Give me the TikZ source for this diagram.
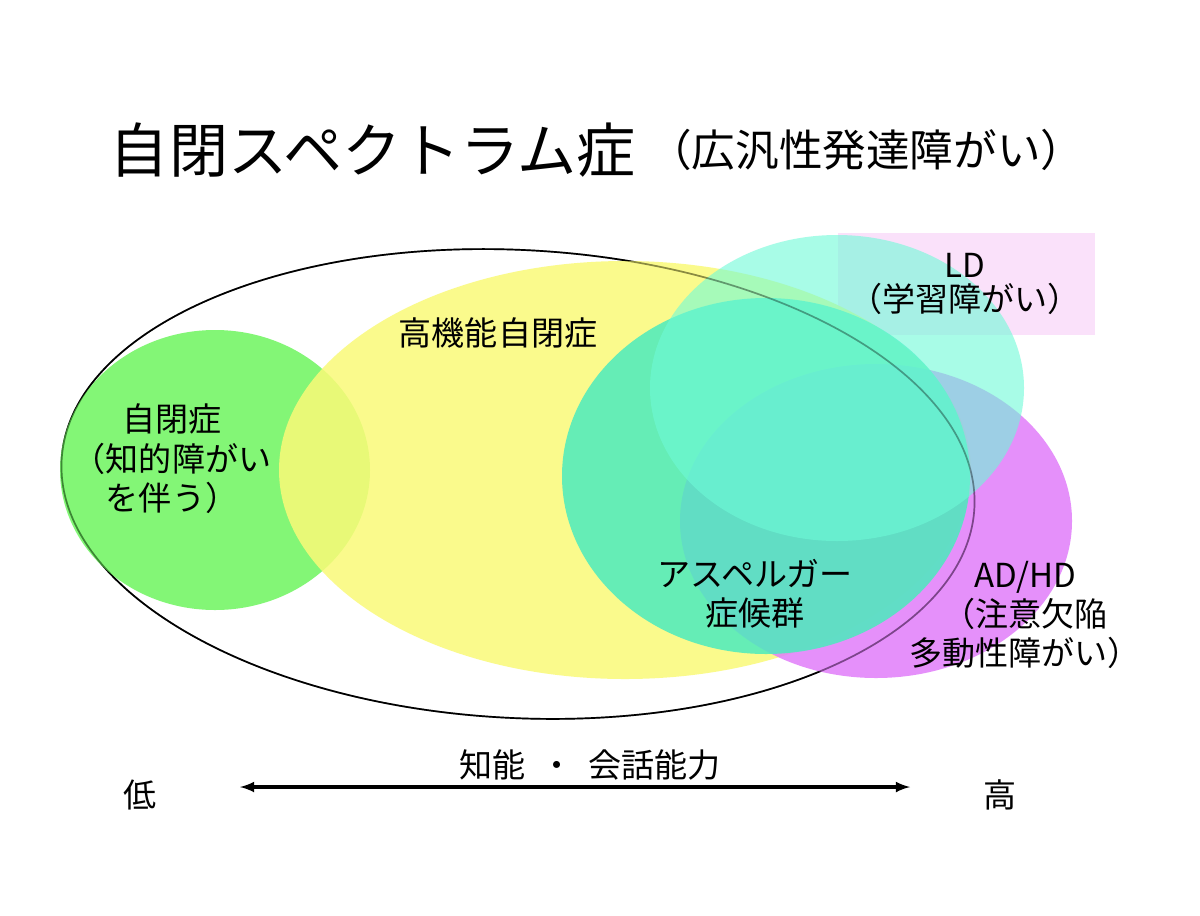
\documentclass[tikz,border=0pt]{standalone}
\usepackage{fontspec}
\setmainfont{Noto Sans CJK JP}
\usetikzlibrary{positioning}
\definecolor{autgreen}{RGB}{110,245,95}
\definecolor{hfyellow}{RGB}{250,250,120}
\definecolor{adhdpink}{RGB}{225,125,250}
\definecolor{aspteal}{RGB}{75,235,190}
\definecolor{ldcyan}{RGB}{110,250,215}
\definecolor{ldbox}{RGB}{250,225,250}
\tikzstyle{label} = [font=\fontsize{23.5}{28}\selectfont, align=center, inner sep=1pt]
\tikzstyle{blob} = [draw=none, fill opacity=0.85]
\begin{document}
\begin{tikzpicture}[x=0.025cm, y=-0.025cm]
  \useasboundingbox (0,0) rectangle (1200,915);
  \fill[white] (0,0) rectangle (1200,915);

  % title
  \node[anchor=west, font=\fontsize{42}{46}\selectfont] (title) at (105,150) {自閉スペクトラム症};
  \node[anchor=west, font=\fontsize{31}{34}\selectfont, right=2pt of title] (subtitle) {（広汎性発達障がい）};

  % regions
  \fill[ldbox] (838,233) rectangle (1095,335);
  \draw[black, line width=1.2pt, rotate around={-3:(518,484)}] (518,484) ellipse [x radius=457, y radius=234];
  \fill[autgreen, blob] (215,470) ellipse [x radius=155, y radius=140];
  \fill[hfyellow, blob] (625,470) ellipse [x radius=346, y radius=209];
  \fill[adhdpink, blob] (876,521) ellipse [x radius=196, y radius=157];
  \fill[aspteal, blob] (766,476) ellipse [x radius=204, y radius=178];
  \fill[ldcyan, fill opacity=0.6] (837,388) ellipse [x radius=187, y radius=153];
  \draw[black, line width=1.2pt, draw opacity=0.35, rotate around={-3:(518,484)}] (518,484) ellipse [x radius=457, y radius=234];

  % labels
  \node[label] (ld) at (965,265) {LD};
  \node[label, below=2pt of ld] (ldsub) {（学習障がい）};
  \node[label] (hfa) at (498,333) {高機能自閉症};
  \node[label] (aut) at (172,459) {自閉症\\（知的障がい\\を伴う）};
  \node[label] (asp) at (755,594) {アスペルガー\\症候群};
  \node[label] (adhd) at (1025,615) {AD/HD\\（注意欠陥\\多動性障がい）};

  % axis
  \node[label] (low) at (140,795) {低};
  \node[label] (high) at (1000,795) {高};
  \coordinate (axl) at (240,787);
  \coordinate (axr) at (910,787);
  \draw[line width=2.4pt, <->, >=latex] (axl) -- (axr);
  \node[label] (axis) at (590,765) {知能\ \ ・\ \ 会話能力};
\end{tikzpicture}
\end{document}
